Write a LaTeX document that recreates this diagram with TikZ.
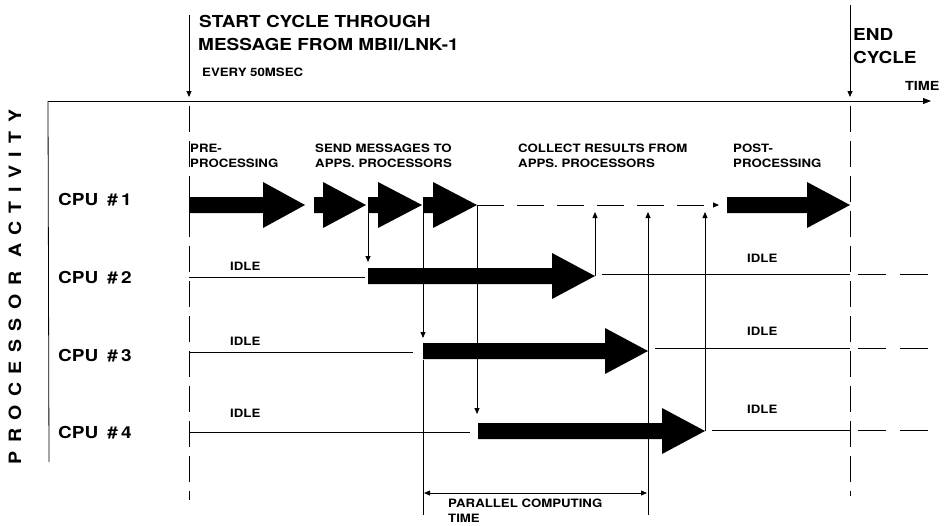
\documentclass[tikz,border=0pt]{standalone}
\usepackage{fontspec}
\setmainfont[FakeStretch=1.15]{TeX Gyre Heros}
\usetikzlibrary{arrows.meta, positioning, calc}

% fat block arrow: start, head start, tip, row
\newcommand{\fatarrow}[4]{%
  \fill (#1,#4-8) -- (#2,#4-8) -- (#2,#4-23) -- (#3,#4) -- (#2,#4+23) -- (#2,#4+8) -- (#1,#4+8) -- cycle;}

\begin{document}
\begin{tikzpicture}[x=1pt, y=-1pt,
    thinline/.style={line width=0.8pt},
    msg/.style={thinline, -{Triangle[length=6pt, width=5pt]}},
    cycleline/.style={thinline, dash pattern=on 26pt off 9pt},
    idletail/.style={thinline, dash pattern=on 28pt off 14pt},
    big/.style={font=\fontsize{16.5}{19}\selectfont\bfseries, inner sep=0pt},
    small/.style={font=\fontsize{11.5}{15}\selectfont\bfseries, inner sep=0pt, align=left}]
  \useasboundingbox (0,0) rectangle (945,525);

  % --- Time axis ---
  \coordinate (ax0) at (48,101);
  \coordinate (ax1) at (931,101);
  \coordinate (axbot) at (49,462);
  \draw[thinline, -{Triangle[length=8pt, width=6pt]}] (ax0) -- (ax1);
  \draw[thinline] (ax0) -- (axbot);
  \node[small, anchor=base west, font=\fontsize{12.5}{15}\selectfont\bfseries] (time) at (905,90) {TIME};

  % --- Start / end of cycle ---
  \coordinate (st0) at (189,15);
  \coordinate (st1) at (189,97);
  \coordinate (en0) at (850,5);
  \coordinate (en1) at (850,97);
  \draw[msg] (st0) -- (st1);
  \draw[msg] (en0) -- (en1);
  \draw[cycleline] (189,106) -- (189,500);
  \draw[cycleline] (850,106) -- (850,496);
  \node[big, anchor=base west] (start1) at (199,27) {START CYCLE THROUGH};
  \node[big, anchor=base west] (start2) at (198,50) {MESSAGE FROM MBII/LNK-1};
  \node[small, anchor=base west, font=\fontsize{11.5}{13}\selectfont\bfseries] (every) at (202,76) {EVERY 50MSEC};
  \node[big, anchor=base west] (end1) at (853,40) {END};
  \node[big, anchor=base west] (end2) at (853,63) {CYCLE};

  % --- Vertical axis title ---
  \node[rotate=90, inner sep=0pt, font=\fontsize{17}{20}\selectfont\bfseries\addfontfeatures{LetterSpace=50}] (title) at (15,287) {PROCESSOR ACTIVITY};

  % --- Phase labels ---
  \node[small, anchor=base west] (pre) at (190,167) {PRE-\\PROCESSING};
  \node[small, anchor=base west] (send) at (315,167) {SEND MESSAGES TO\\APPS. PROCESSORS};
  \node[small, anchor=base west] (collect) at (518,167) {COLLECT RESULTS FROM\\APPS. PROCESSORS};
  \node[small, anchor=base west] (post) at (733,167) {POST-\\PROCESSING};

  % --- CPU labels ---
  \node[big, anchor=base west] (cpu1) at (58,205) {CPU\hspace{0.55em}\#\hspace{0.2em}1};
  \node[big, anchor=base west] (cpu2) at (58,283) {CPU\hspace{0.55em}\#\hspace{0.2em}2};
  \node[big, anchor=base west] (cpu3) at (58,361) {CPU\hspace{0.55em}\#\hspace{0.2em}3};
  \node[big, anchor=base west] (cpu4) at (58,438) {CPU\hspace{0.55em}\#\hspace{0.2em}4};

  % --- Message and result connectors ---
  \coordinate (m2) at (368,205);
  \coordinate (m3) at (423,205);
  \coordinate (m4) at (477,205);
  \coordinate (b2) at (368,262);
  \coordinate (b3) at (423,338);
  \coordinate (b4) at (477,414);
  \coordinate (e2) at (595,276);
  \coordinate (e3) at (648,515);
  \coordinate (e4) at (705,431);
  \coordinate (r2) at (595,212);
  \coordinate (r3) at (648,212);
  \coordinate (r4) at (705,212);
  \coordinate (w0) at (477,205);
  \coordinate (w1) at (719,205);
  \draw[msg] (m2) -- (b2);
  \draw[msg] (m3) -- (b3);
  \draw[msg] (m4) -- (b4);
  \draw[msg] (e2) -- (r2);
  \draw[msg] (e3) -- (r3);
  \draw[msg] (e4) -- (r4);
  \draw[msg, dash pattern=on 27pt off 13pt] (w0) -- (w1);

  % --- Activity bars ---
  \fatarrow{189}{263}{305}{205}
  \fatarrow{314}{323}{366}{205}
  \fatarrow{368}{378}{422}{205}
  \fatarrow{423}{433}{477}{205}
  \fatarrow{727}{807}{850}{205}
  \fatarrow{368}{552}{595}{276}
  \fatarrow{423}{605}{648}{351}
  \fatarrow{478}{662}{705}{431}

  % --- Idle lines ---
  \draw[thinline] (189,277) -- (365,277);
  \draw[thinline] (189,352) -- (413,352);
  \draw[thinline] (189,432) -- (470,432);
  \draw[thinline] (602,274) -- (850,274);
  \draw[thinline] (655,348) -- (850,348);
  \draw[thinline] (712,430) -- (850,430);
  \draw[idletail] (858,274) -- (930,274);
  \draw[idletail] (858,348) -- (930,348);
  \draw[idletail] (858,430) -- (930,430);
  \node[small, anchor=base west] (idle2) at (230,270) {IDLE};
  \node[small, anchor=base west] (idle3) at (230,345) {IDLE};
  \node[small, anchor=base west] (idle4) at (230,417) {IDLE};
  \node[small, anchor=base west] (idle2r) at (747,262) {IDLE};
  \node[small, anchor=base west] (idle3r) at (747,335) {IDLE};
  \node[small, anchor=base west] (idle4r) at (747,413) {IDLE};

  % --- Parallel computing time ---
  \coordinate (pt0) at (424,493);
  \coordinate (pt1) at (647,493);
  \draw[thinline] (423,360) -- (423,515);
  \draw[thinline, {Triangle[length=6pt, width=5pt]}-{Triangle[length=6pt, width=5pt]}] (pt0) -- (pt1);
  \node[small, anchor=base west] (par) at (448,522) {PARALLEL COMPUTING\\TIME};
\end{tikzpicture}
\end{document}
